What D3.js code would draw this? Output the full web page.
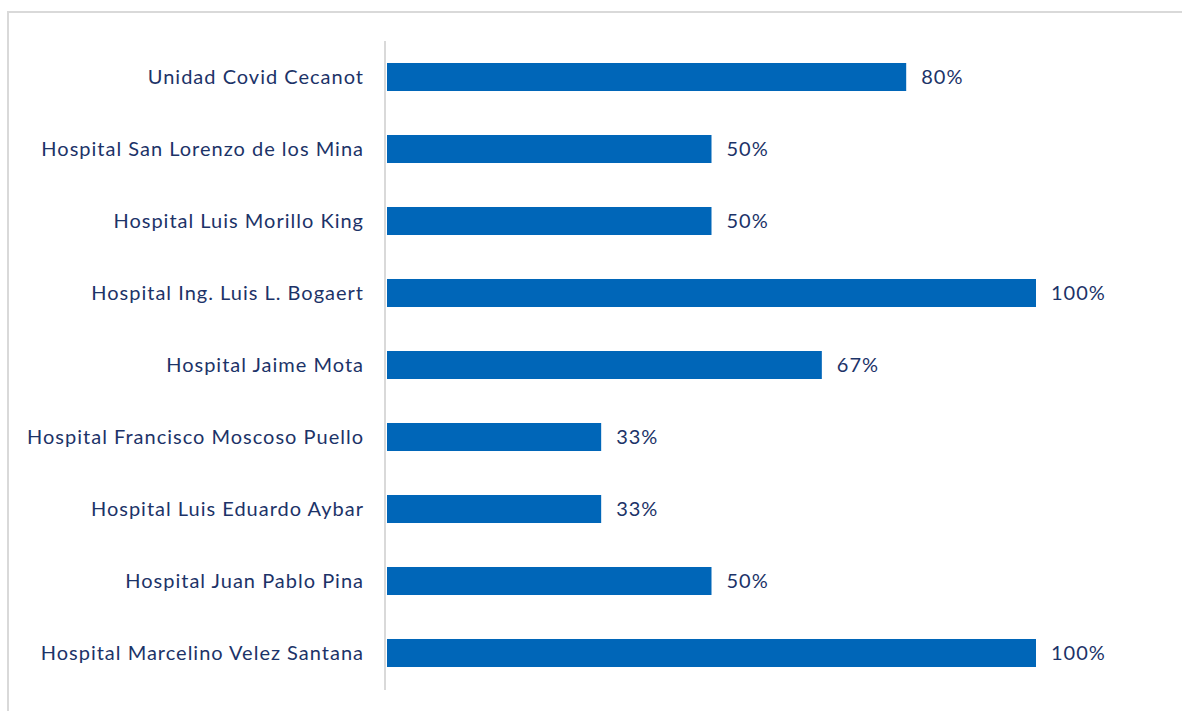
<!DOCTYPE html>
<html><head><meta charset="utf-8">
<script src="https://cdn.jsdelivr.net/npm/d3@7"></script>
<style>body{margin:0;background:#fff;}svg{display:block;}</style>
</head><body>
<script>
const categories = ["Unidad Covid Cecanot","Hospital San Lorenzo de los Mina","Hospital Luis Morillo King","Hospital Ing. Luis L. Bogaert","Hospital Jaime Mota","Hospital Francisco Moscoso Puello","Hospital Luis Eduardo Aybar","Hospital Juan Pablo Pina","Hospital Marcelino Velez Santana"];
const values = [80,50,50,100,67,33,33,50,100];

const W=1182,H=711;
const svg=d3.select("body").append("svg").attr("width",W).attr("height",H);
// outer border
svg.append("path").attr("d","M8,720 L8,12 L1190,12").attr("fill","none").attr("stroke","#d9d9d9").attr("stroke-width",2);

const x=d3.scaleLinear().domain([0,100]).range([387,1036]);
const y=d3.scaleBand().domain(categories).range([41,689]).paddingInner(0.611).paddingOuter(0.3055);

svg.append("line").attr("x1",385).attr("x2",385).attr("y1",41).attr("y2",690).attr("stroke","#d9d9d9").attr("stroke-width",2);

svg.selectAll("rect.bar").data(values).join("rect").attr("class","bar")
 .attr("x",x(0)).attr("y",(d,i)=>y(categories[i])).attr("width",d=>x(d)-x(0)).attr("height",y.bandwidth())
 .attr("fill","#0066b8");

const font="'Lato', 'Open Sans', sans-serif";
svg.selectAll("text.cat").data(categories).join("text").attr("class","cat")
 .attr("x",364).attr("y",d=>y(d)+y.bandwidth()/2).attr("dy","0.35em").attr("text-anchor","end")
 .attr("font-family",font).attr("font-size",20).attr("letter-spacing","1px").attr("fill","#1c3368").text(d=>d);

svg.selectAll("text.val").data(values).join("text").attr("class","val")
 .attr("x",d=>x(d)+15).attr("y",(d,i)=>y(categories[i])+y.bandwidth()/2).attr("dy","0.35em")
 .attr("font-family",font).attr("font-size",20).attr("letter-spacing","1px").attr("fill","#1c3368").text(d=>d+"%");
</script>
</body></html>
